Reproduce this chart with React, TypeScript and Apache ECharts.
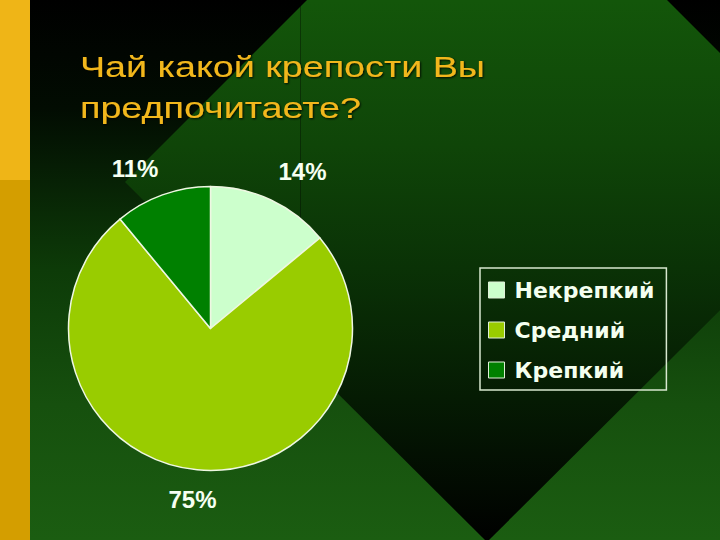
import React, { useEffect, useRef } from "react";
import * as echarts from "echarts";

const CATEGORIES = ["Некрепкий", "Средний", "Крепкий"];
const VALUES = [14, 75, 11];
const COLORS = ["#CCFFCC", "#99CC00", "#008000"];
const TITLE_LINES = ["Чай какой крепости Вы", "предпочитаете?"];

// label anchor positions (layout, not data)
const LABEL_ANCHORS: [number, number][] = [
  [302.5, 171],
  [192.5, 499],
  [135, 168.5],
];

export default function App() {
  const ref = useRef<HTMLDivElement>(null);

  useEffect(() => {
    if (!ref.current) return;
    const chart = echarts.init(ref.current, null, { renderer: "svg" });

    const bgGrad = new echarts.graphic.LinearGradient(0, 0, 0, 1, [
      { offset: 0, color: "#000000" },
      { offset: 0.2, color: "#020c02" },
      { offset: 0.5, color: "#0d3b08" },
      { offset: 0.75, color: "#16500e" },
      { offset: 1, color: "#1b5d11" },
    ]);
    const diamondGrad = new echarts.graphic.LinearGradient(0, 0, 0, 1, [
      { offset: 0, color: "#176010" },
      { offset: 0.25, color: "#13560a" },
      { offset: 0.45, color: "#0f4508" },
      { offset: 0.62, color: "#0a3206" },
      { offset: 0.8, color: "#051b03" },
      { offset: 1, color: "#000000" },
    ]);

    const titleStyle = {
      fontFamily: "Liberation Sans, Arial, sans-serif",
      fontSize: 29,
      fill: "#F2B71C",
      verticalAlign: "middle",
      align: "left",
      textShadowColor: "rgba(0,0,0,0.9)",
      textShadowBlur: 2,
      textShadowOffsetX: 1,
      textShadowOffsetY: 1,
    };

    const option: any = {
      animation: false,
      backgroundColor: "#000",
      graphic: [
        {
          type: "rect",
          z: -10,
          shape: { x: 0, y: 0, width: 720, height: 540 },
          style: { fill: bgGrad },
          silent: true,
        },
        {
          type: "polygon",
          z: -9,
          shape: {
            points: [
              [487, -180],
              [849, 182],
              [487, 542],
              [125, 182],
            ],
          },
          style: { fill: diamondGrad },
          silent: true,
        },
        {
          type: "line",
          z: -8,
          shape: { x1: 300.5, y1: 0, x2: 300.5, y2: 300 },
          style: { stroke: "rgba(0,0,0,0.35)", lineWidth: 1 },
          silent: true,
        },
        {
          type: "rect",
          z: -8,
          shape: { x: 0, y: 0, width: 30, height: 180 },
          style: { fill: "#EFB517" },
          silent: true,
        },
        {
          type: "rect",
          z: -8,
          shape: { x: 0, y: 180, width: 30, height: 360 },
          style: { fill: "#D49E00" },
          silent: true,
        },
        {
          type: "text",
          z: 5,
          x: 80,
          y: 67,
          scaleX: 1.3,
          style: { ...titleStyle, text: TITLE_LINES[0] },
        },
        {
          type: "text",
          z: 5,
          x: 80,
          y: 108,
          scaleX: 1.3,
          style: { ...titleStyle, text: TITLE_LINES[1] },
        },
      ],
      legend: {
        orient: "vertical",
        left: 480,
        top: 268,
        data: CATEGORIES,
        icon: "rect",
        itemWidth: 16,
        itemHeight: 16,
        itemGap: 16,
        padding: [10, 12, 8, 8],
        borderColor: "#D8E8D0",
        borderWidth: 1.5,
        itemStyle: { borderColor: "#E0F0D8", borderWidth: 1 },
        textStyle: {
          color: "#F4FFF0",
          fontSize: 22,
          fontWeight: "bold",
          fontFamily: "DejaVu Sans, sans-serif",
          lineHeight: 24,
          padding: [0, 0, 0, 5],
        },
        selectedMode: false,
      },
      series: [
        {
          type: "pie",
          center: [210.5, 328.5],
          radius: 142,
          startAngle: 90,
          clockwise: true,
          data: CATEGORIES.map((name, i) => ({
            name,
            value: VALUES[i],
            itemStyle: { color: COLORS[i] },
          })),
          itemStyle: { borderColor: "#EEF7E2", borderWidth: 1.5 },
          label: {
            show: true,
            position: "outside",
            formatter: "{c}%",
            color: "#F6FFF2",
            fontSize: 24,
            fontWeight: "bold",
            fontFamily: "Liberation Sans, Arial, sans-serif",
          },
          labelLine: { show: false },
          labelLayout: (params: any) => {
            const p = LABEL_ANCHORS[params.dataIndex];
            return { x: p[0], y: p[1], align: "center", verticalAlign: "middle" };
          },
          emphasis: { disabled: true },
        },
      ],
    };

    chart.setOption(option);
    return () => chart.dispose();
  }, []);

  return (
    <div
      ref={ref}
      style={{ position: "fixed", left: 0, top: 0, width: 720, height: 540 }}
    />
  );
}
